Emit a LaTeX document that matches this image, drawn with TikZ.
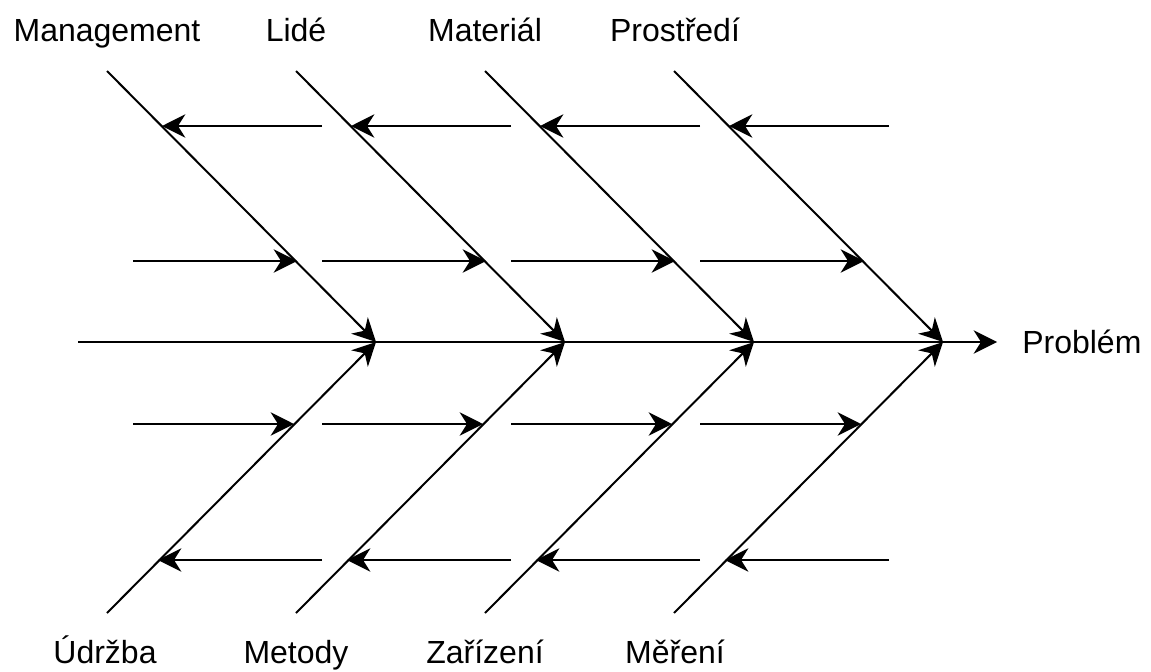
\documentclass[tikz,border=0pt]{standalone}
\usepackage{fontspec}
\setmainfont{Liberation Sans}
\usetikzlibrary{arrows.meta}
\begin{document}
\begin{tikzpicture}[x=0.75pt,y=-0.75pt,
  bone/.style={line width=1.5pt,-{Stealth[length=17.5pt,width=17.5pt,inset=5.5pt]}},
  cause/.style={font=\fontsize{24}{28}\selectfont,anchor=base,inner sep=0pt}]
  % canvas
  \path[use as bounding box,fill=white] (0,0) rectangle (1151,671);

  % spine and effect
  \coordinate (s0) at (78,342);
  \coordinate (s1) at (997,342);
  \draw[bone] (s0) -- (s1);
  \node[cause,anchor=base west] (effect) at (1022,353) {Problém};

  % category labels
  \node[cause] (c1) at (107,41) {Management};
  \node[cause] (c2) at (296,41) {Lidé};
  \node[cause] (c3) at (485,41) {Materiál};
  \node[cause] (c4) at (675,41) {Prostředí};
  \node[cause] (d1) at (105,663) {Údržba};
  \node[cause] (d2) at (296,663) {Metody};
  \node[cause] (d3) at (485,663) {Zařízení};
  \node[cause] (d4) at (675,663) {Měření};

  \foreach \i in {0,1,2,3}{
    \pgfmathsetmacro{\dx}{189*\i}
    % main bones
    \coordinate (t\i) at (107+\dx,71);
    \coordinate (b\i) at (107+\dx,613);
    \coordinate (j\i) at (376+\dx,342);
    \draw[bone] (t\i) -- (j\i);
    \draw[bone] (b\i) -- (j\i);
    % sub-causes, upper half
    \coordinate (ua\i) at (322+\dx,126);
    \coordinate (ub\i) at (162+\dx,126);
    \draw[bone] (ua\i) -- (ub\i);
    \coordinate (va\i) at (133+\dx,261);
    \coordinate (vb\i) at (297+\dx,261);
    \draw[bone] (va\i) -- (vb\i);
    % sub-causes, lower half
    \coordinate (wa\i) at (133+\dx,424);
    \coordinate (wb\i) at (294+\dx,424);
    \draw[bone] (wa\i) -- (wb\i);
    \coordinate (xa\i) at (322+\dx,560);
    \coordinate (xb\i) at (158+\dx,560);
    \draw[bone] (xa\i) -- (xb\i);
  }
\end{tikzpicture}
\end{document}
